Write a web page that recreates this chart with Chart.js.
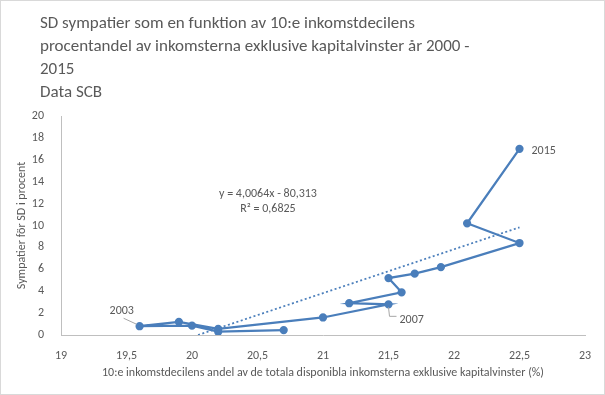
<!DOCTYPE html>
<html>
<head>
<meta charset="utf-8">
<script src="https://cdn.jsdelivr.net/npm/chart.js@4.4.1/dist/chart.umd.min.js"></script>
<style>
  html, body { margin: 0; padding: 0; background: #fff; }
  #wrap { width: 605px; height: 395px; box-sizing: border-box; border: 1px solid #d9d9d9; position: relative; }
</style>
</head>
<body>
<div id="wrap"><canvas id="myChart"></canvas></div>
<script>
// år och värden
const years = [2000, 2001, 2002, 2003, 2004, 2005, 2006, 2007, 2008, 2009, 2010, 2011, 2012, 2013, 2014, 2015];
const topDecileShare = [20.7, 20.2, 20.0, 19.6, 19.9, 20.2, 21.0, 21.5, 21.2, 21.6, 21.5, 21.7, 21.9, 22.5, 22.1, 22.5];
const sdSympathy = [0.45, 0.3, 0.85, 0.8, 1.2, 0.55, 1.6, 2.8, 2.9, 3.9, 5.2, 5.6, 6.2, 8.4, 10.2, 17.0];
const labelledYears = [2003, 2007, 2015];

// linjär trendlinje
const slope = 4.0064;
const intercept = -80.313;
const trendX = [-intercept / slope, 22.5];

const titleLines = [
    'SD sympatier som en funktion av 10:e inkomstdecilens',
    'procentandel av inkomsterna exklusive kapitalvinster år 2000 -',
    '2015',
    'Data SCB'
];
const equationText = ['y = 4,0064x - 80,313', 'R² = 0,6825'];
const xTitle = '10:e inkomstdecilens andel av de totala disponibla inkomsterna exklusive kapitalvinster (%)';
const yTitle = 'Sympatier för SD i procent';

const FONT = "Carlito, Lato, 'Open Sans', sans-serif";
const GREY = '#595959';
const BLUE = '#4A7EBB';

const points = years.map((y, i) => ({ x: topDecileShare[i], y: sdSympathy[i] }));
const trendPoints = trendX.map(x => ({ x: x, y: slope * x + intercept }));

// titel och etiketter ritas direkt på canvas
const textPlugin = {
    id: 'textPlugin',
    afterDraw(chart) {
        const c = chart.ctx;
        const xs = chart.scales.x;
        const ys = chart.scales.y;
        c.save();
        c.fillStyle = GREY;
        c.textBaseline = 'alphabetic';

        c.font = '17px ' + FONT;
        c.textAlign = 'left';
        titleLines.forEach((t, i) => c.fillText(t, 39, 27 + i * 23));

        c.font = '12px ' + FONT;
        c.textAlign = 'center';
        const ex = xs.getPixelForValue(20.58);
        const ey = ys.getPixelForValue(12.6);
        c.fillText(equationText[0], ex, ey);
        c.fillText(equationText[1], ex, ey + 15);

        c.strokeStyle = '#a6a6a6';
        c.lineWidth = 1;
        labelledYears.forEach(yr => {
            const i = years.indexOf(yr);
            const px = xs.getPixelForValue(topDecileShare[i]);
            const py = ys.getPixelForValue(sdSympathy[i]);
            c.textAlign = 'left';
            if (yr === 2003) {
                c.beginPath();
                c.moveTo(px - 3, py - 2);
                c.lineTo(px - 16, py - 8);
                c.stroke();
                c.fillText(String(yr), px - 30, py - 12);
            } else if (yr === 2007) {
                c.beginPath();
                c.moveTo(px, py + 3);
                c.lineTo(px + 1, py + 12);
                c.lineTo(px + 8, py + 12);
                c.stroke();
                c.fillText(String(yr), px + 11, py + 19);
            } else {
                c.fillText(String(yr), px + 12, py + 5);
            }
        });
        c.restore();
    }
};

const ctx = document.getElementById('myChart').getContext('2d');
const myChart = new Chart(ctx, {
    type: 'scatter',
    data: {
        datasets: [{
            label: 'SD sympatier',
            data: points,
            showLine: true,
            borderColor: BLUE,
            backgroundColor: BLUE,
            borderWidth: 2.25,
            pointRadius: 3,
            pointHoverRadius: 3,
            order: 1
        }, {
            label: 'Linjär trend',
            data: trendPoints,
            showLine: true,
            borderColor: BLUE,
            borderWidth: 1.75,
            borderDash: [2, 2.5],
            pointRadius: 0,
            order: 2
        }]
    },
    options: {
        responsive: true,
        maintainAspectRatio: false,
        animation: false,
        layout: { padding: { top: 115, right: 19, bottom: 14, left: 14 } },
        plugins: {
            legend: { display: false },
            title: { display: false },
            tooltip: { enabled: false }
        },
        scales: {
            x: {
                type: 'linear',
                min: 19,
                max: 23,
                grid: { display: false },
                border: { display: true, color: '#bfbfbf' },
                ticks: {
                    stepSize: 0.5,
                    color: GREY,
                    padding: 6,
                    font: { family: FONT, size: 12 },
                    callback: v => String(v).replace('.', ',')
                },
                title: {
                    display: true,
                    text: xTitle,
                    color: GREY,
                    font: { family: FONT, size: 12 },
                    padding: { top: 2, bottom: 0 }
                },
                afterFit: s => { s.height = 45; }
            },
            y: {
                min: 0,
                max: 20,
                grid: { display: false },
                border: { display: true, color: '#bfbfbf' },
                ticks: {
                    stepSize: 2,
                    color: GREY,
                    padding: 9,
                    font: { family: FONT, size: 12 }
                },
                title: {
                    display: true,
                    text: yTitle,
                    color: GREY,
                    font: { family: FONT, size: 12 },
                    padding: { top: 0, bottom: 2 }
                },
                afterFit: s => { s.width = 46; }
            }
        }
    },
    plugins: [textPlugin]
});
</script>
</body>
</html>
